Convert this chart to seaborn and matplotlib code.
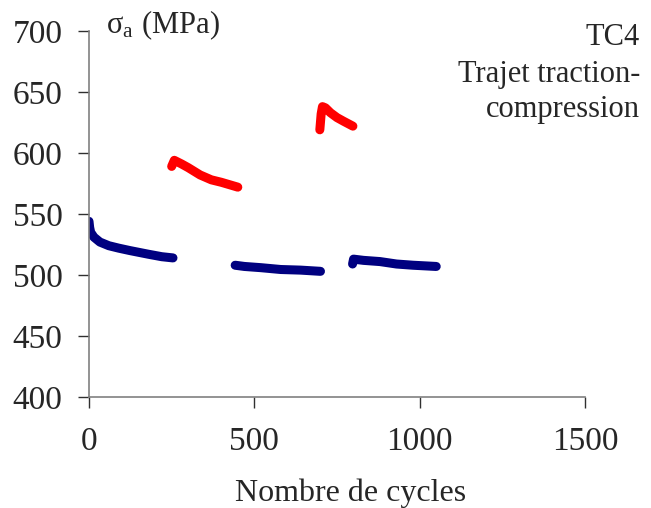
import pandas as pd
import matplotlib
matplotlib.use("Agg")
import matplotlib.pyplot as plt
import seaborn as sns

# segments bleus (sigma_a en MPa)
bleu1_cycles = [0, 2, 5, 15, 33, 60, 90, 124, 180, 220, 254]
bleu1_sigma = [544, 539, 535, 531, 527, 524, 522, 520, 517, 515, 514]

bleu2_cycles = [442, 470, 520, 580, 640, 700]
bleu2_sigma = [508, 507, 506, 504.5, 504, 503]

bleu3_cycles = [797, 800, 830, 880, 930, 980, 1050]
bleu3_sigma = [509, 513, 512, 511, 509, 508, 507]

# segments rouges
rouge1_cycles = [250, 258, 280, 300, 336, 370, 400, 450]
rouge1_sigma = [589, 594, 591, 588, 582, 578, 576, 572]

rouge2_cycles = [698, 702, 706, 715, 730, 750, 770, 798]
rouge2_sigma = [619, 632, 638, 637, 633, 629, 626, 622]

segments = [
    ("bleu", "b1", bleu1_cycles, bleu1_sigma),
    ("bleu", "b2", bleu2_cycles, bleu2_sigma),
    ("bleu", "b3", bleu3_cycles, bleu3_sigma),
    ("rouge", "r1", rouge1_cycles, rouge1_sigma),
    ("rouge", "r2", rouge2_cycles, rouge2_sigma),
]

rows = []
for serie, seg, xs, ys in segments:
    for x, y in zip(xs, ys):
        rows.append({"serie": serie, "segment": seg, "cycles": x, "sigma": y})
df = pd.DataFrame(rows)

sns.set_theme(style="white")
plt.rcParams["font.family"] = ["Liberation Serif", "DejaVu Serif"]
plt.rcParams["mathtext.fontset"] = "stix"

fig = plt.figure(figsize=(6.51, 5.08), dpi=100)
ax = fig.add_axes([0.1367, 0.2185, 0.762, 0.7205])

sns.lineplot(
    data=df, x="cycles", y="sigma", hue="serie", units="segment",
    estimator=None, sort=False, legend=False,
    palette={"bleu": "#000080", "rouge": "#FF0000"},
    linewidth=6.5, solid_capstyle="round", solid_joinstyle="round", ax=ax
)

ax.set_xlim(0, 1500)
ax.set_ylim(400, 700)
ax.set_xticks([0, 500, 1000, 1500])
ax.set_yticks([400, 450, 500, 550, 600, 650, 700])

for s in ["top", "right"]:
    ax.spines[s].set_visible(False)
for s in ["left", "bottom"]:
    ax.spines[s].set_color("#808080")
    ax.spines[s].set_linewidth(1.2)

ax.tick_params(axis="y", direction="out", length=8, width=1, color="#303030",
               pad=11, labelsize=24, left=True)
ax.tick_params(axis="x", direction="out", length=8, width=1, color="#303030",
               pad=13, labelsize=24, bottom=True)

ax.set_xlabel("Nombre de cycles", fontsize=23)
ax.xaxis.set_label_coords(0.528, -0.222)
ax.set_ylabel("")

fig.text(106 / 651, 1 - 33 / 508, r"σ$_\mathregular{a}$ (MPa)",
         fontsize=22, ha="left", va="baseline")

fig.text(640 / 651, 1 - 45 / 508, "TC4", fontsize=22, ha="right", va="baseline")
fig.text(640 / 651, 1 - 82 / 508, "Trajet traction-", fontsize=22,
         ha="right", va="baseline")
fig.text(640 / 651, 1 - 117 / 508, "compression", fontsize=22,
         ha="right", va="baseline")

fig.savefig("out.png", dpi=100)
